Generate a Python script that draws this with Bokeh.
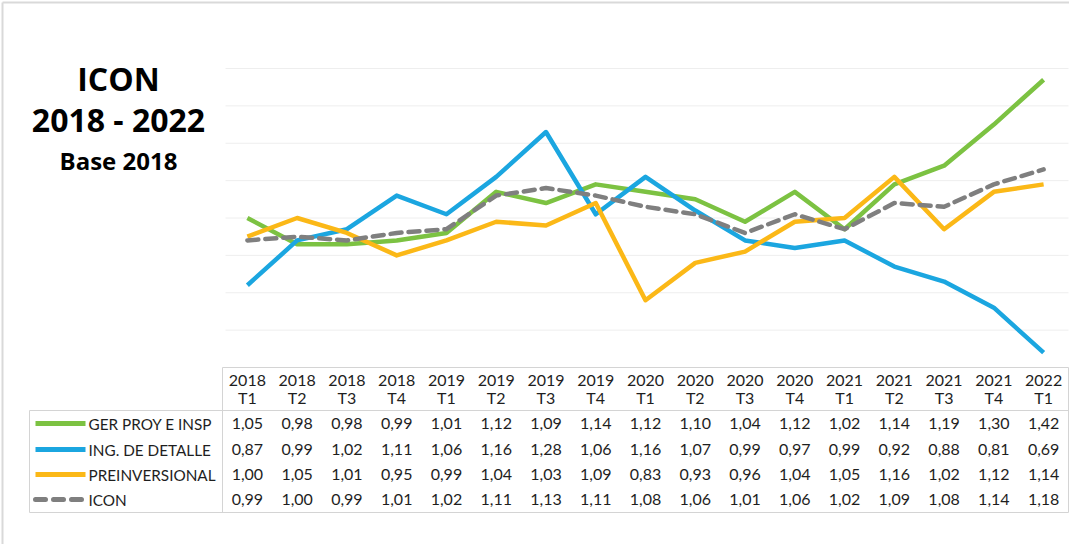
from bokeh.plotting import figure
from bokeh.models import Range1d
from bokeh.core.properties import value
from bokeh.embed import file_html
from bokeh.resources import INLINE

# ---------------- data ----------------
categories = ["2018 T1", "2018 T2", "2018 T3", "2018 T4",
              "2019 T1", "2019 T2", "2019 T3", "2019 T4",
              "2020 T1", "2020 T2", "2020 T3", "2020 T4",
              "2021 T1", "2021 T2", "2021 T3", "2021 T4",
              "2022 T1"]
series_names = ["GER PROY E INSP", "ING. DE DETALLE", "PREINVERSIONAL", "ICON"]
ger_proy = [1.05, 0.98, 0.98, 0.99, 1.01, 1.12, 1.09, 1.14, 1.12, 1.10, 1.04, 1.12, 1.02, 1.14, 1.19, 1.30, 1.42]
ing_detalle = [0.87, 0.99, 1.02, 1.11, 1.06, 1.16, 1.28, 1.06, 1.16, 1.07, 0.99, 0.97, 0.99, 0.92, 0.88, 0.81, 0.69]
preinversional = [1.00, 1.05, 1.01, 0.95, 0.99, 1.04, 1.03, 1.09, 0.83, 0.93, 0.96, 1.04, 1.05, 1.16, 1.02, 1.12, 1.14]
icon = [0.99, 1.00, 0.99, 1.01, 1.02, 1.11, 1.13, 1.11, 1.08, 1.06, 1.01, 1.06, 1.02, 1.09, 1.08, 1.14, 1.18]
grid_values = [0.75, 0.85, 0.95, 1.05, 1.15, 1.25, 1.35, 1.45]
title_lines = ["ICON", "2018 - 2022", "Base 2018"]

series_values = [ger_proy, ing_detalle, preinversional, icon]
colors = ["#7cc242", "#1ba6e0", "#fbb817", "#7f7f7f"]
dashes = ["solid", "solid", "solid", "11 7"]

# ---------------- layout (pixels) ----------------
W, H = 1069, 544
TL, TR = 222, 1068          # data columns of the table
LEG_L = 29                  # left edge of the legend column
HEAD_T, HEAD_B, BODY_B = 367, 410, 512
V0, V1 = 0.65, 1.45         # value range of the plot area
Y0, Y1 = 367, 68            # pixel rows of V0 and V1
n = len(categories)
colw = (TR - TL) / n
x_start = -0.5 - TL / colw
x_end = x_start + W / colw
ppu = (Y0 - Y1) / (V1 - V0)
v_bottom = V0 - (H - Y0) / ppu
v_top = V1 + Y1 / ppu

p = figure(width=W, height=H, x_range=Range1d(0, W), y_range=Range1d(H, 0),
           x_axis_location=None, y_axis_location=None,
           toolbar_location=None, output_backend="svg", min_border=0,
           outline_line_color=None, background_fill_color="white",
           border_fill_color="white")
p.extra_x_ranges = {"q": Range1d(x_start, x_end)}
p.extra_y_ranges = {"v": Range1d(v_bottom, v_top)}
p.xgrid.visible = False
p.ygrid.visible = False

# outer frame (left and top edges visible in the reference)
p.segment(x0=[2, 2], y0=[2, 2], x1=[2, W], y1=[H, 2],
          line_color="#d9d9d9", line_width=2)

# horizontal gridlines
p.segment(x0=[TL + 3] * len(grid_values), x1=[TR] * len(grid_values),
          y0=grid_values, y1=grid_values, y_range_name="v",
          line_color="#eeeeee", line_width=1)

# series lines
idx = list(range(n))
for vals, col, dash in zip(series_values, colors, dashes):
    p.line(x=idx, y=vals, x_range_name="q", y_range_name="v",
           line_color=col, line_width=4.5, line_dash=dash,
           line_join="round", line_cap="round" if dash != "solid" else "butt")

# title
TFONT = value("Open Sans")
p.text(x=[118, 118], y=[78, 119], text=title_lines[:2], text_font=TFONT,
       text_font_size="32px", text_font_style="bold", text_align="center",
       text_baseline="middle", text_color="#000000")
p.text(x=[118], y=[160], text=title_lines[2:], text_font=TFONT,
       text_font_size="24px", text_font_style="bold", text_align="center",
       text_baseline="middle", text_color="#000000")

# table borders
bc = "#d4d4d4"
p.segment(x0=[TL, LEG_L, LEG_L, LEG_L, TR, TL],
          y0=[HEAD_T, HEAD_B, BODY_B, HEAD_B, HEAD_T, HEAD_T],
          x1=[TR, TR, TR, LEG_L, TR, TL],
          y1=[HEAD_T, HEAD_B, BODY_B, BODY_B, BODY_B, BODY_B],
          line_color=bc, line_width=1)

FONT = value("Lato")
TC = "#1e1e1e"
FS = "16px"
cx = [TL + colw * (i + 0.5) for i in range(n)]
years = [c.split()[0] for c in categories]
quarters = [c.split()[1] for c in categories]
p.text(x=cx, y=[380] * n, text=years, text_font=FONT, text_font_size=FS,
       text_align="center", text_baseline="middle", text_color=TC)
p.text(x=cx, y=[397] * n, text=quarters, text_font=FONT, text_font_size=FS,
       text_align="center", text_baseline="middle", text_color=TC)

row_y = [423, 449, 474, 499]
for ry, name, vals, col, dash in zip(row_y, series_names, series_values, colors, dashes):
    p.text(x=cx, y=[ry] * n, text=[f"{v:.2f}".replace(".", ",") for v in vals],
           text_font=FONT, text_font_size=FS, text_align="center",
           text_baseline="middle", text_color=TC)
    p.segment(x0=[LEG_L + 6], x1=[LEG_L + 56], y0=[ry], y1=[ry],
              line_color=col, line_width=5,
              line_cap="butt" if dash == "solid" else "round",
              line_dash=dash if dash == "solid" else "10 8")
    p.text(x=[LEG_L + 59], y=[ry], text=[name], text_font=FONT,
           text_font_size="15.3px", text_align="left", text_baseline="middle",
           text_color=TC)

open("out.html", "w").write(file_html(p, INLINE))
